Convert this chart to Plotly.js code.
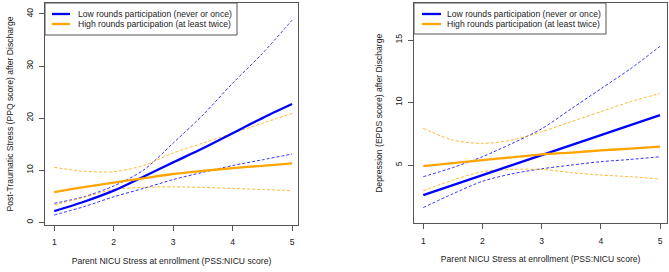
<!DOCTYPE html>
<html>
<head>
<meta charset="utf-8">
<script src="https://cdn.plot.ly/plotly-3.0.1.min.js"></script>
<style>html,body{margin:0;padding:0;background:#fff;}#chart{width:669px;height:272px;}</style>
</head>
<body>
<div id="chart"></div>
<script>
// ---- data ----
const pssScore = [1, 1.5, 2, 2.5, 3, 3.5, 4, 4.5, 5];

const ppqLow      = [2.15, 3.95, 6.07, 8.75, 11.5, 14.2, 17.1, 20.0, 22.7];
const ppqLowUpper = [3.65, 4.9, 6.97, 10.0, 15.2, 20.6, 26.7, 32.4, 38.8];
const ppqLowLower = [1.4, 3.0, 4.9, 6.5, 8.2, 9.6, 10.9, 12.0, 13.1];
const ppqHigh      = [5.8, 6.75, 7.6, 8.45, 9.27, 9.85, 10.4, 10.85, 11.3];
const ppqHighUpper = [10.55, 9.8, 9.7, 10.9, 13.3, 15.2, 17.1, 19.0, 20.9];
const ppqHighLower = [3.3, 4.8, 6.3, 6.7, 6.8, 6.7, 6.5, 6.3, 6.05];

const epdsLow      = [2.6, 3.4, 4.2, 5.0, 5.8, 6.6, 7.4, 8.2, 9.0];
const epdsLowUpper = [4.07, 4.8, 5.67, 6.73, 7.9, 9.5, 11.1, 12.7, 14.5];
const epdsLowLower = [1.6, 2.7, 3.7, 4.3, 4.7, 5.0, 5.27, 5.45, 5.67];
const epdsHigh      = [4.92, 5.15, 5.4, 5.62, 5.85, 6.0, 6.17, 6.32, 6.47];
const epdsHighUpper = [7.93, 7.0, 6.73, 7.0, 7.67, 8.47, 9.27, 10.07, 10.73];
const epdsHighLower = [2.95, 3.8, 4.47, 4.65, 4.65, 4.4, 4.2, 4.07, 3.88];

const legendLabels = ["Low rounds participation (never or once)", "High rounds participation (at least twice)"];
const xTitle = "Parent NICU Stress at enrollment (PSS:NICU score)";
const yTitleLeft = "Post-Traumatic Stress (PPQ score) after Discharge";
const yTitleRight = "Depression (EPDS score) after Discharge";
const leftYTicks = [0, 10, 20, 30, 40];
const rightYTicks = [5, 10, 15];
const xTicks = [1, 2, 3, 4, 5];

// ---- styles ----
const BLUE = "#0000ff", ORANGE = "#ffa500";
const FONT = "Liberation Sans, Arial, sans-serif";
const FS = 8.6;
const W = 669, H = 272;
const px = v => v / W, py = v => 1 - v / H;

function solid(y, color, xa, ya) {
  return {x: pssScore, y: y, mode: "lines", xaxis: xa, yaxis: ya, showlegend: false,
          line: {color: color, width: 2.3, shape: "spline", smoothing: 0.8}, hoverinfo: "skip"};
}
function dashed(y, color, xa, ya) {
  return {x: pssScore, y: y, mode: "lines", xaxis: xa, yaxis: ya, showlegend: false, opacity: 0.8,
          line: {color: color, width: 1, dash: "3px,2px", shape: "spline", smoothing: 0.8}, hoverinfo: "skip"};
}

const traces = [
  dashed(ppqLowUpper, BLUE, "x", "y"), dashed(ppqLowLower, BLUE, "x", "y"),
  dashed(ppqHighUpper, ORANGE, "x", "y"), dashed(ppqHighLower, ORANGE, "x", "y"),
  solid(ppqLow, BLUE, "x", "y"), solid(ppqHigh, ORANGE, "x", "y"),
  dashed(epdsLowUpper, BLUE, "x2", "y2"), dashed(epdsLowLower, BLUE, "x2", "y2"),
  dashed(epdsHighUpper, ORANGE, "x2", "y2"), dashed(epdsHighLower, ORANGE, "x2", "y2"),
  solid(epdsLow, BLUE, "x2", "y2"), solid(epdsHigh, ORANGE, "x2", "y2")
];

const axisBase = {
  showgrid: false, zeroline: false, showline: true, mirror: true,
  linecolor: "#555", linewidth: 1, ticks: "outside", ticklen: 5, tickcolor: "#555",
  tickfont: {family: FONT, size: FS, color: "#222"}, fixedrange: true
};

function xAxis(domain, range) {
  return Object.assign({}, axisBase, {
    domain: domain, range: range, tickvals: xTicks, ticktext: xTicks.map(String),
    ticklabelstandoff: 4,
    title: {text: xTitle, font: {family: FONT, size: FS, color: "#222"}, standoff: 11}
  });
}
function yAxis(domain, range, ticks, title, anchor) {
  return Object.assign({}, axisBase, {
    domain: domain, range: range, tickvals: ticks, ticktext: ticks.map(String),
    tickangle: -90, ticklabelstandoff: 3, anchor: anchor,
    title: {text: title, font: {family: FONT, size: FS, color: "#222"}, standoff: 9}
  });
}

// legend boxes (decoration)
function legend(x0, x1, y0, y1, lx0, lx1, tx) {
  const shapes = [
    {type: "rect", xref: "paper", yref: "paper", x0: px(x0), x1: px(x1), y0: py(y0), y1: py(y1),
     line: {color: "#555", width: 1}, fillcolor: "rgba(0,0,0,0)"},
    {type: "line", xref: "paper", yref: "paper", x0: px(lx0), x1: px(lx1), y0: py(14), y1: py(14),
     line: {color: BLUE, width: 2.3}},
    {type: "line", xref: "paper", yref: "paper", x0: px(lx0), x1: px(lx1), y0: py(24), y1: py(24),
     line: {color: ORANGE, width: 2.3}}
  ];
  const anns = [14, 24].map((yy, i) => ({
    xref: "paper", yref: "paper", x: px(tx), y: py(yy), xanchor: "left", yanchor: "middle",
    text: legendLabels[i], showarrow: false, font: {family: FONT, size: FS, color: "#222"}
  }));
  return {shapes, anns};
}
const lg1 = legend(45, 237, 3, 35, 52, 70, 76);
const lg2 = legend(414, 606, 3, 34, 422, 441, 445);

const layout = {
  width: W, height: H, margin: {l: 0, r: 0, t: 0, b: 0},
  paper_bgcolor: "#fff", plot_bgcolor: "#fff", showlegend: false,
  font: {family: FONT, size: FS, color: "#222"},
  xaxis: xAxis([px(45), px(298)], [0.844, 5.10]),
  yaxis: yAxis([py(225), py(3)], [-0.52, 42.1], leftYTicks, yTitleLeft, "x"),
  xaxis2: Object.assign(xAxis([px(414), px(667.3)], [0.843, 5.123]), {anchor: "y2"}),
  yaxis2: yAxis([py(223.3), py(3.3)], [0.34, 17.94], rightYTicks, yTitleRight, "x2"),
  shapes: lg1.shapes.concat(lg2.shapes),
  annotations: lg1.anns.concat(lg2.anns)
};
layout.xaxis.anchor = "y";

Plotly.newPlot("chart", traces, layout, {displayModeBar: false, staticPlot: true});
</script>
</body>
</html>
